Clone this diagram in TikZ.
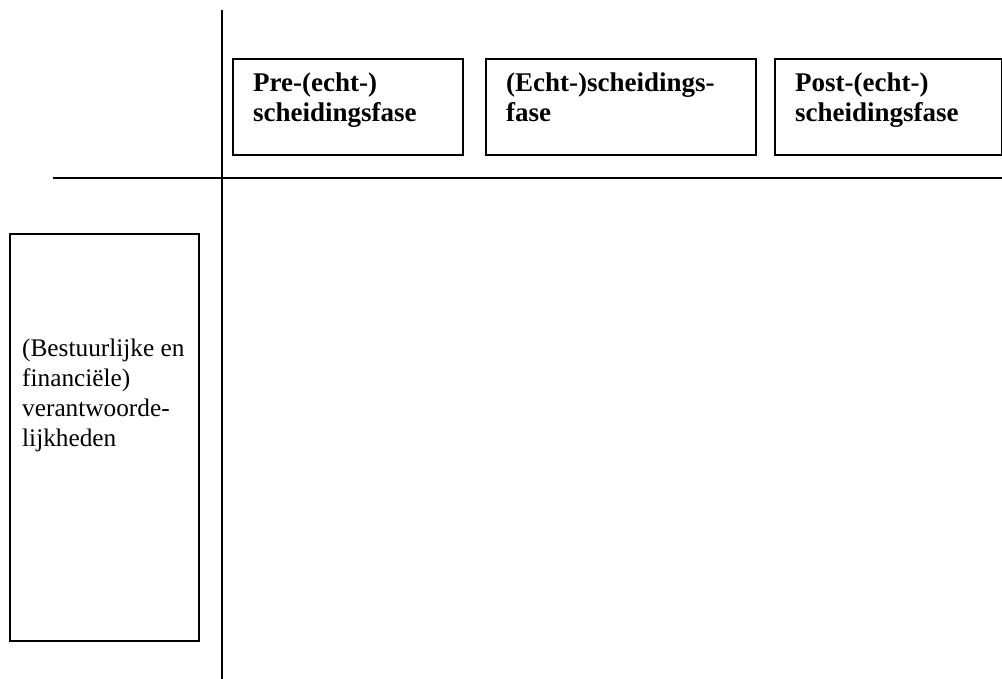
\documentclass[tikz,border=0pt]{standalone}
\usepackage{fontspec}
\setmainfont{Liberation Serif}
\usetikzlibrary{calc}
\begin{document}
\begin{tikzpicture}[x=1pt,y=-1pt,
  box/.style={draw=black, line width=1.6pt, inner sep=0pt, anchor=north west},
  lbl/.style={inner sep=0pt, anchor=base west, font=\fontsize{25.3}{30}\selectfont},
  hdr/.style={lbl, font=\fontsize{27}{30}\selectfont\bfseries},
  axis/.style={line width=1.6pt}]
\useasboundingbox[fill=white] (0,0) rectangle (1002,679);
% axes
\coordinate (vtop) at (222,10);
\coordinate (vbot) at (222,679);
\coordinate (hleft) at (53,178);
\coordinate (hright) at (1003,178);
\draw[axis] (vtop) -- (vbot);
\draw[axis] (hleft) -- (hright);
% header boxes
\node[box, minimum width=230pt, minimum height=96pt] (b1) at (232,58) {};
\node[box, minimum width=270pt, minimum height=96pt] (b2) at (485,58) {};
\node[box, minimum width=227pt, minimum height=96pt] (b3) at (774,58) {};
\node[hdr] (t1) at (253,92) {\parbox[t]{210pt}{\raggedright Pre-(echt-)\\scheidingsfase}};
\node[hdr] (t2) at (506,92) {\parbox[t]{240pt}{\raggedright (Echt-)scheidings-\\fase}};
\node[hdr] (t3) at (795,92) {\parbox[t]{205pt}{\raggedright Post-(echt-)\\scheidingsfase}};
% left box
\node[box, minimum width=189pt, minimum height=407pt] (lb) at (9,233) {};
\node[lbl] (lt) at (22,356) {\parbox[t]{175pt}{\raggedright (Bestuurlijke en\\financiële)\\verantwoorde-\\lijkheden}};
\end{tikzpicture}
\end{document}
